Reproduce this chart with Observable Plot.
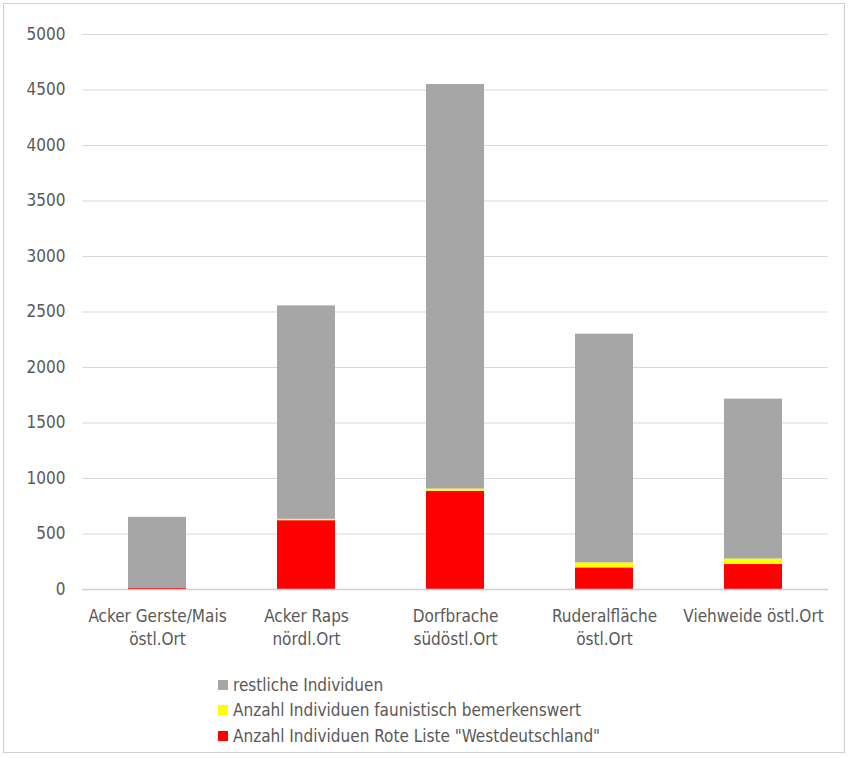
<!DOCTYPE html>
<html>
<head>
<meta charset="utf-8">
<script src="https://cdn.jsdelivr.net/npm/d3@7"></script>
<script src="https://cdn.jsdelivr.net/npm/@observablehq/plot@0.6"></script>
<style>
  html, body { margin: 0; padding: 0; background: #fff; }
  #frame { position: relative; width: 851px; height: 758px; overflow: hidden; }
  #border { position: absolute; left: 3px; top: 3px; width: 842px; height: 750px; border: 1px solid #d0d0d0; box-sizing: border-box; }
  #chart { position: absolute; left: 0; top: 0; }
  #legend { position: absolute; left: 218px; top: 672px; font-family: "Liberation Sans Narrow", "Arial Narrow", "DejaVu Sans Condensed", sans-serif; font-size: 17px; color: #595959; }
  .item { display: flex; align-items: center; height: 25.5px; }
  .sw { width: 10px; height: 10px; margin-right: 5px; }
</style>
</head>
<body>
<div id="frame">
  <div id="border"></div>
  <div id="chart"></div>
  <div id="legend"></div>
</div>
<script>
const categories = ["Acker Gerste/Mais\nöstl.Ort", "Acker Raps\nnördl.Ort", "Dorfbrache\nsüdöstl.Ort", "Ruderalfläche\nöstl.Ort", "Viehweide östl.Ort"];
const roteListe = [15, 620, 885, 195, 225];
const bemerkenswert = [3, 12, 20, 45, 50];
const restliche = [632, 1923, 3645, 2060, 1440];
const seriesNames = ["Anzahl Individuen Rote Liste \"Westdeutschland\"", "Anzahl Individuen faunistisch bemerkenswert", "restliche Individuen"];
const seriesColors = ["#ff0000", "#ffff00", "#a6a6a6"];
const yTicks = [0, 500, 1000, 1500, 2000, 2500, 3000, 3500, 4000, 4500, 5000];

const seriesValues = [roteListe, bemerkenswert, restliche];
const data = [];
seriesValues.forEach((vals, si) => {
  categories.forEach((c, ci) => data.push({category: c, series: seriesNames[si], value: vals[ci]}));
});

const font = '"Liberation Sans Narrow", "Arial Narrow", "DejaVu Sans Condensed", sans-serif';

const chart = Plot.plot({
  width: 851,
  height: 654,
  marginLeft: 82,
  marginRight: 23,
  marginTop: 34,
  marginBottom: 65,
  style: {fontFamily: font, fontSize: "17px", color: "#595959", background: "transparent"},
  x: {domain: categories, paddingInner: 0.61, paddingOuter: 0.305, label: null},
  y: {domain: [0, 5000], ticks: yTicks, label: null},
  color: {domain: seriesNames, range: seriesColors},
  marks: [
    Plot.gridY(yTicks.filter(d => d > 0), {stroke: "#d9d9d9", strokeOpacity: 1}),
    Plot.barY(data, {x: "category", y: "value", fill: "series", order: seriesNames}),
    Plot.ruleY([0], {stroke: "#d0d0d0", strokeWidth: 1.5}),
    Plot.axisY({ticks: yTicks, tickSize: 0, tickPadding: 17, tickFormat: d => String(d), fill: "#595959", fontSize: 17}),
    Plot.axisX({tickSize: 0, tickPadding: 16, fill: "#595959", fontSize: 17, lineHeight: 1.35})
  ]
});
document.getElementById("chart").appendChild(chart);

const legend = document.getElementById("legend");
[2, 1, 0].forEach(i => {
  const div = document.createElement("div");
  div.className = "item";
  const sw = document.createElement("span");
  sw.className = "sw";
  sw.style.background = seriesColors[i];
  const label = document.createElement("span");
  label.textContent = seriesNames[i];
  div.appendChild(sw);
  div.appendChild(label);
  legend.appendChild(div);
});
</script>
</body>
</html>
